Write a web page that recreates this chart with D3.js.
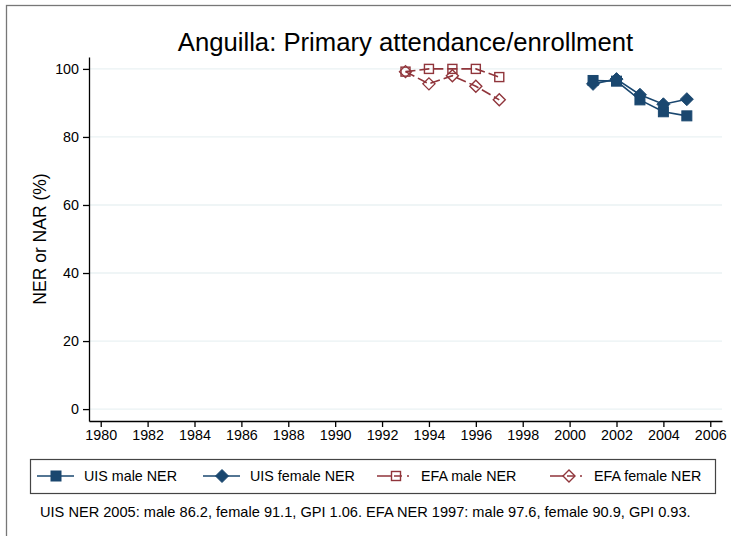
<!DOCTYPE html>
<html>
<head>
<meta charset="utf-8">
<script src="https://cdn.jsdelivr.net/npm/d3@7"></script>
<style>
body { margin: 0; background: #fff; }
svg text { font-family: "Liberation Sans", Arial, sans-serif; fill: #000; }
</style>
</head>
<body>
<svg width="731" height="536"></svg>
<script>
var svg = d3.select('svg');
var width = +svg.attr('width');
var height = +svg.attr('height');

// data
var uisYears = [2001, 2002, 2003, 2004, 2005];
var uisMale = [96.6, 96.4, 90.9, 87.4, 86.2];
var uisFemale = [95.6, 97.0, 92.4, 89.6, 91.1];
var efaYears = [1993, 1994, 1995, 1996, 1997];
var efaMale = [99.2, 100, 100, 100, 97.6];
var efaFemale = [99.2, 95.6, 98.0, 94.9, 90.9];
var xTicks = d3.range(1980, 2007, 2);
var yTicks = [0, 20, 40, 60, 80, 100];
var legendLabels = ['UIS male NER', 'UIS female NER', 'EFA male NER', 'EFA female NER'];
var note = 'UIS NER 2005: male 86.2, female 91.1, GPI 1.06. EFA NER 1997: male 97.6, female 90.9, GPI 0.93.';

var navy = '#1a476f', maroon = '#90353b';

var plot = {left: 89, right: 722, top: 57, bottom: 421};
var x = d3.scaleLinear().domain([1979.5, 2006.5]).range([plot.left, plot.right]);
var y = d3.scaleLinear().domain([-3.5, 103.5]).range([plot.bottom, plot.top]);

// outer frame
svg.append('rect').attr('x', 6.5).attr('y', 5.5).attr('width', 760).attr('height', 560)
    .attr('fill', 'none').attr('stroke', '#777').attr('stroke-width', 1.3);

// title
svg.append('text').attr('x', (plot.left + plot.right) / 2).attr('y', 51)
    .attr('text-anchor', 'middle').attr('font-size', '25.7px')
    .text('Anguilla: Primary attendance/enrollment');

// grid
svg.append('g').selectAll('line').data(yTicks).enter().append('line')
    .attr('x1', plot.left).attr('x2', plot.right)
    .attr('y1', d => y(d)).attr('y2', d => y(d))
    .attr('stroke', '#eaf2f3').attr('stroke-width', 1.3);

// axes
var yAxis = svg.append('g').attr('transform', 'translate(' + plot.left + ',0)')
    .call(d3.axisLeft(y).tickValues(yTicks).tickSize(6).tickPadding(4).tickSizeOuter(0));
var xAxis = svg.append('g').attr('transform', 'translate(0,' + plot.bottom + ')')
    .call(d3.axisBottom(x).tickValues(xTicks).tickFormat(d3.format('d')).tickSize(6).tickPadding(3).tickSizeOuter(0));
[yAxis, xAxis].forEach(function(a) {
    a.select('.domain').attr('stroke', '#000').attr('stroke-width', 1.3);
    a.selectAll('.tick line').attr('stroke', '#000').attr('stroke-width', 1.3);
    a.selectAll('.tick text').attr('font-size', '14.3px').attr('font-family', '"Liberation Sans", Arial, sans-serif').attr('fill', '#000');
});

svg.append('text').attr('transform', 'translate(46,' + (plot.top + plot.bottom) / 2 + ') rotate(-90)')
    .attr('text-anchor', 'middle').attr('font-size', '17.5px').text('NER or NAR (%)');

// markers
function marker(g, type, cx, cy, color) {
    if (type === 'square') {
        g.append('rect').attr('x', cx - 5).attr('y', cy - 5).attr('width', 10).attr('height', 10)
            .attr('fill', color).attr('stroke', color);
    } else if (type === 'diamond') {
        g.append('path').attr('d', 'M' + cx + ',' + (cy - 6.5) + 'L' + (cx + 6.5) + ',' + cy + 'L' + cx + ',' + (cy + 6.5) + 'L' + (cx - 6.5) + ',' + cy + 'Z')
            .attr('fill', color).attr('stroke', color);
    } else if (type === 'osquare') {
        g.append('rect').attr('x', cx - 4.5).attr('y', cy - 4.5).attr('width', 9).attr('height', 9)
            .attr('fill', 'none').attr('stroke', color).attr('stroke-width', 1.4);
    } else {
        g.append('path').attr('d', 'M' + cx + ',' + (cy - 6) + 'L' + (cx + 6) + ',' + cy + 'L' + cx + ',' + (cy + 6) + 'L' + (cx - 6) + ',' + cy + 'Z')
            .attr('fill', 'none').attr('stroke', color).attr('stroke-width', 1.4);
    }
}

var series = [
    {years: uisYears, vals: uisMale, color: navy, type: 'square', dash: null},
    {years: uisYears, vals: uisFemale, color: navy, type: 'diamond', dash: null},
    {years: efaYears, vals: efaMale, color: maroon, type: 'osquare', dash: '10,4'},
    {years: efaYears, vals: efaFemale, color: maroon, type: 'odiamond', dash: '10,4'}
];

var line = d3.line().x(d => x(d[0])).y(d => y(d[1]));
series.forEach(function(s) {
    var pts = s.years.map((yr, i) => [yr, s.vals[i]]);
    var g = svg.append('g');
    g.append('path').attr('d', line(pts)).attr('fill', 'none')
        .attr('stroke', s.color).attr('stroke-width', 1.6)
        .attr('stroke-dasharray', s.dash);
    pts.forEach(p => marker(g, s.type, x(p[0]), y(p[1]), s.color));
});

// legend
svg.append('rect').attr('x', 30.5).attr('y', 459.5).attr('width', 685).attr('height', 34)
    .attr('fill', '#fff').attr('stroke', '#444').attr('stroke-width', 1.2);
var legendX = [37, 203, 377, 550];
series.forEach(function(s, i) {
    var g = svg.append('g');
    var lx = legendX[i], ly = 476;
    g.append('line').attr('x1', lx).attr('x2', lx + 37).attr('y1', ly).attr('y2', ly)
        .attr('stroke', s.color).attr('stroke-width', 1.6).attr('stroke-dasharray', s.dash ? '14,3,8,5,2,20' : null);
    marker(g, s.type, lx + 19, ly, s.color);
    g.append('text').attr('x', lx + (i < 2 ? 47 : 44)).attr('y', ly + 5).attr('font-size', '14.3px').text(legendLabels[i]);
});

svg.append('text').attr('x', 40).attr('y', 517).attr('font-size', '14.6px').text(note);
</script>
</body>
</html>
